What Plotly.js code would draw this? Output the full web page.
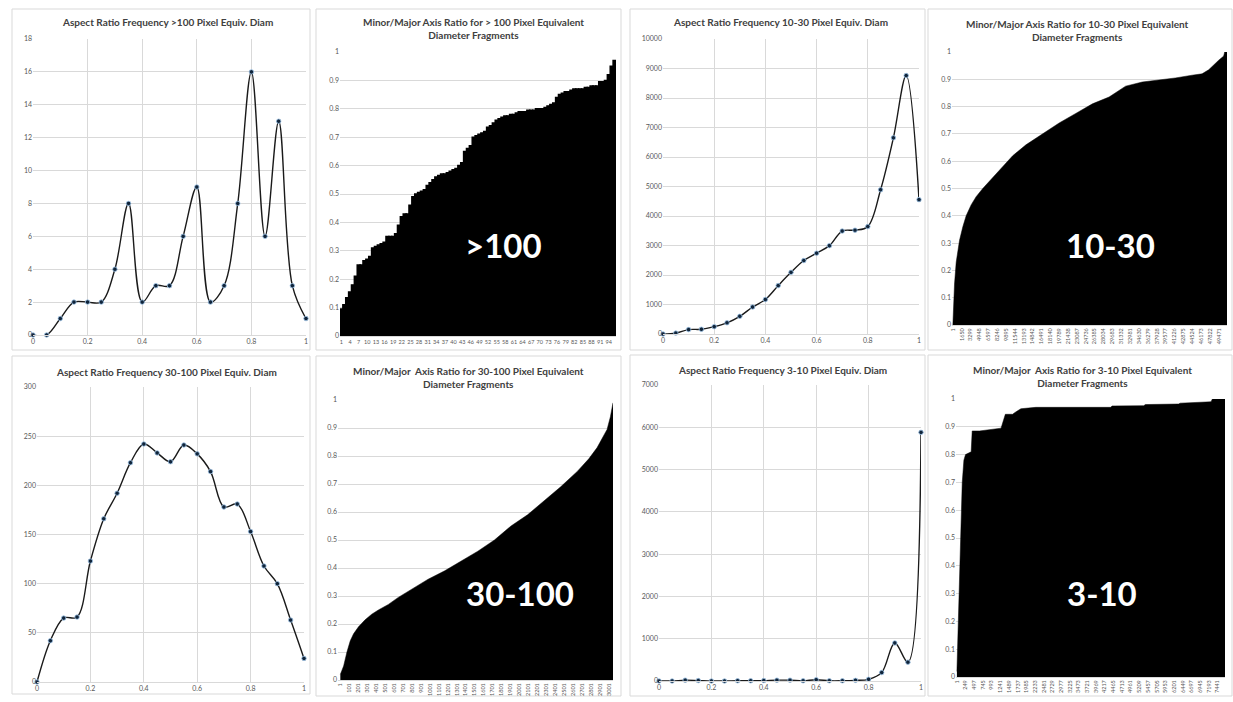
<!DOCTYPE html>
<html>
<head>
<meta charset="utf-8">
<script src="https://cdn.plot.ly/plotly-3.0.1.min.js"></script>
<style>html,body{margin:0;padding:0;background:#fff;}#chart{width:1233px;height:702px;}</style>
</head>
<body>
<div id="chart"></div>
<script>
// ---------- DATA ----------
const ratioBins = [0,0.05,0.1,0.15,0.2,0.25,0.3,0.35,0.4,0.45,0.5,0.55,0.6,0.65,0.7,0.75,0.8,0.85,0.9,0.95,1];
const freqGt100 = [0,0,1,2,2,2,4,8,2,3,3,6,9,2,3,8,16,6,13,3,1];
const freq10to30 = [0,30,150,160,250,380,600,915,1170,1640,2090,2490,2740,2995,3490,3520,3640,4890,6650,8760,4555];
const freq30to100 = [0,42,65,66,123,166,192,223,242,233,224,241,232,214,178,181,153,118,100,63,24];
const freq3to10 = [0,0,20,10,0,0,5,5,10,20,20,5,30,5,5,15,40,200,900,445,5880];

const ratioGt100 = [0.095,0.11,0.135,0.155,0.18,0.21,0.25,0.25,0.265,0.27,0.28,0.31,0.315,0.32,0.325,0.33,0.35,0.35,0.35,0.36,
  0.39,0.42,0.43,0.43,0.46,0.49,0.50,0.505,0.51,0.515,0.53,0.54,0.55,0.56,0.565,0.57,0.57,0.575,0.58,0.585,
  0.59,0.60,0.61,0.65,0.66,0.67,0.70,0.705,0.71,0.715,0.72,0.735,0.74,0.75,0.76,0.765,0.77,0.775,0.775,0.78,
  0.78,0.785,0.79,0.79,0.79,0.795,0.795,0.795,0.80,0.80,0.80,0.805,0.81,0.815,0.82,0.84,0.85,0.855,0.86,0.86,
  0.865,0.87,0.87,0.87,0.87,0.875,0.875,0.88,0.88,0.88,0.895,0.895,0.90,0.92,0.95,0.97];
const ticksGt100 = [1,4,7,10,13,16,19,22,25,28,31,34,37,40,43,46,49,52,55,58,61,64,67,70,73,76,79,82,85,88,91,94];

const idx10to30 = [1,310,620,930,1240,1855,2475,3400,4330,5565,7420,9275,11130,13600,16690,19780,22870,25965,29055,32145,35235,38325,41420,44510,46365,47600,48840,49460,50385,50570,51000];
const ratio10to30 = [0.0,0.15,0.23,0.28,0.31,0.36,0.40,0.44,0.47,0.50,0.54,0.58,0.62,0.66,0.70,0.74,0.775,0.81,0.835,0.875,0.89,0.897,0.905,0.915,0.92,0.935,0.96,0.97,0.985,1.0,1.0];
const ticks10to30 = [1,1650,3299,4948,6597,8246,9895,11544,13193,14842,16491,18140,19789,21438,23087,24736,26385,28034,29683,31332,32981,34630,36279,37928,39577,41226,42875,44524,46173,47822,49471];

const idx30to100 = [1,38,75,112,149,204,278,352,426,538,648,796,982,1167,1352,1537,1722,1907,2092,2277,2462,2647,2776,2869,2943,2980,3017,3046];
const ratio30to100 = [0.02,0.05,0.10,0.14,0.165,0.19,0.215,0.235,0.25,0.27,0.295,0.325,0.36,0.39,0.425,0.46,0.50,0.55,0.59,0.64,0.69,0.745,0.79,0.83,0.87,0.895,0.94,0.99];
const ticks30to100 = [1,101,201,301,401,501,601,701,801,901,1001,1101,1201,1301,1401,1501,1601,1701,1801,1901,2001,2101,2201,2301,2401,2501,2601,2701,2801,2901,3001];

const idx3to10 = [1,77,153,200,247,408,437,645,1260,1383,1591,1639,1828,2255,4385,4432,5332,5379,6326,6373,7254,7292,7652];
const ratio3to10 = [0.02,0.40,0.70,0.78,0.80,0.81,0.885,0.885,0.895,0.945,0.945,0.95,0.965,0.97,0.97,0.975,0.976,0.98,0.982,0.985,0.99,1.0,1.0];
const ticks3to10 = [1,249,497,745,993,1241,1489,1737,1985,2233,2481,2729,2977,3225,3473,3721,3969,4217,4465,4713,4961,5209,5457,5705,5953,6201,6449,6697,6945,7193,7441];

const titles = [
  "Aspect Ratio Frequency >100 Pixel Equiv. Diam",
  "Minor/Major Axis Ratio for > 100 Pixel Equivalent<br>Diameter Fragments",
  "Aspect Ratio Frequency 10-30 Pixel Equiv. Diam",
  "Minor/Major Axis Ratio for 10-30 Pixel Equivalent<br>Diameter Fragments",
  "Aspect Ratio Frequency 30-100 Pixel Equiv. Diam",
  "Minor/Major  Axis Ratio for 30-100 Pixel Equivalent<br>Diameter Fragments",
  "Aspect Ratio Frequency 3-10 Pixel Equiv. Diam",
  "Minor/Major  Axis Ratio for 3-10 Pixel Equivalent<br>Diameter Fragments"
];
const bigLabels = [">100","10-30","30-100","3-10"];

// ---------- LAYOUT HELPERS ----------
const W = 1233, H = 702;
const xd = (a,b) => [a/W, b/W];
const yd = (t,b) => [1-b/H, 1-t/H];
const px = v => v/W;
const py = v => 1-v/H;

const FONT = "Lato, 'Open Sans', sans-serif";
const GRID = "#d9d9d9";
const TICKC = "#595959";

// plot areas [left, top, right, bottom] in pixels
const areas = [
  [33,39,306,335],[340,52,616,336],[663,39,919,334],[952,52,1227,325],
  [37,387,304,682],[338,400,613,680],[659,385,921,681],[956,399,1225,677]
];
// panel frames
const frames = [
  [12,9,310,350],[316,9,621,350],[630,9,925,350],[928,9,1232,350],
  [12,356,310,694],[316,356,621,696],[630,355,925,696],[928,355,1232,696]
];
const titlePos = [[167,22],[473,28],[780,22],[1077,31],[166,372],[468,377],[782,370],[1082,376]];
const bigPos = [[503,245],[1110,245],[520,593],[1102,593]];

const lineStyle = {color:"#1a1a1a", width:1.4, shape:"spline", smoothing:1};
const markerStyle = {color:"#10243a", size:4.5, line:{color:"#9dc3e6", width:0.8}};

const traces = [
  {type:"scatter", mode:"lines+markers", x:ratioBins, y:freqGt100, line:lineStyle, marker:markerStyle, cliponaxis:false, xaxis:"x", yaxis:"y"},
  {type:"bar", x:ratioGt100.map((v,i)=>i+1), y:ratioGt100, width:1.02, marker:{color:"#000", line:{color:"#000", width:1.5}}, xaxis:"x2", yaxis:"y2"},
  {type:"scatter", mode:"lines+markers", x:ratioBins, y:freq10to30, line:lineStyle, marker:markerStyle, cliponaxis:false, xaxis:"x3", yaxis:"y3"},
  {type:"scatter", mode:"lines", x:idx10to30, y:ratio10to30, fill:"tozeroy", fillcolor:"#000", line:{color:"#000", width:0.5}, xaxis:"x4", yaxis:"y4"},
  {type:"scatter", mode:"lines+markers", x:ratioBins, y:freq30to100, line:lineStyle, marker:markerStyle, cliponaxis:false, xaxis:"x5", yaxis:"y5"},
  {type:"scatter", mode:"lines", x:idx30to100, y:ratio30to100, fill:"tozeroy", fillcolor:"#000", line:{color:"#000", width:0.5}, xaxis:"x6", yaxis:"y6"},
  {type:"scatter", mode:"lines+markers", x:ratioBins, y:freq3to10, line:lineStyle, marker:markerStyle, cliponaxis:false, xaxis:"x7", yaxis:"y7"},
  {type:"scatter", mode:"lines", x:idx3to10, y:ratio3to10, fill:"tozeroy", fillcolor:"#000", line:{color:"#000", width:0.5}, xaxis:"x8", yaxis:"y8"}
];

const layout = {
  width: W, height: H,
  margin: {l:0, r:0, t:0, b:0},
  paper_bgcolor: "#fff", plot_bgcolor: "#fff",
  showlegend: false,
  bargap: 0,
  font: {family: FONT, color: TICKC, size: 7},
  shapes: [], annotations: []
};

const yRanges = [[0,18],[0,1],[0,10000],[0,1],[0,300],[0,1],[0,7000],[0,1]];
const yDticks = [2,0.1,1000,0.1,50,0.1,1000,0.1];
const catTicks = {2:ticksGt100, 4:ticks10to30, 6:ticks30to100, 8:ticks3to10};
const catRanges = {2:[0.5, ratioGt100.length+0.5], 4:[-160, 51000], 6:[-25, 3046], 8:[-25, 7652]};

for (let i=1; i<=8; i++) {
  const a = areas[i-1];
  const xk = i===1 ? "xaxis" : "xaxis"+i;
  const yk = i===1 ? "yaxis" : "yaxis"+i;
  const yid = i===1 ? "y" : "y"+i;
  const xid = i===1 ? "x" : "x"+i;
  const isFreq = (i % 2 === 1);
  if (isFreq) {
    layout[xk] = {domain: xd(a[0],a[2]), anchor: yid, range:[0,1], dtick:0.2, tick0:0,
      showgrid:true, gridcolor:GRID, gridwidth:1, zeroline:false, showline:true, linecolor:GRID,
      ticks:"", tickfont:{size:7, color:TICKC, family:FONT}, fixedrange:true};
  } else {
    const tv = catTicks[i];
    const rot = (i !== 2);
    layout[xk] = {domain: xd(a[0],a[2]), anchor: yid, range: catRanges[i],
      tickmode:"array", tickvals: tv, ticktext: tv.map(String), tickangle: rot ? -90 : 0,
      showgrid:false, zeroline:false, showline:true, linecolor:GRID, ticks:"",
      tickfont:{size: rot ? 5.5 : 5.5, color:TICKC, family:FONT}, fixedrange:true};
  }
  layout[yk] = {domain: yd(a[1],a[3]), anchor: xid, range: yRanges[i-1], dtick: yDticks[i-1], tick0:0,
    tickformat: (i===3 || i===7) ? "d" : "",
    showgrid:true, gridcolor:GRID, gridwidth:1, zeroline:false, showline:false, ticks:"",
    tickfont:{size:7, color:TICKC, family:FONT}, fixedrange:true};

  const f = frames[i-1];
  layout.shapes.push({type:"rect", xref:"paper", yref:"paper", x0:px(f[0]), x1:px(f[2]), y0:py(f[3]), y1:py(f[1]),
    line:{color:"#d9d9d9", width:1}, fillcolor:"rgba(0,0,0,0)", layer:"below"});

  const tp = titlePos[i-1];
  layout.annotations.push({xref:"paper", yref:"paper", x:px(tp[0]), y:py(tp[1]), xanchor:"center", yanchor:"middle",
    text:"<b>"+titles[i-1]+"</b>", showarrow:false, align:"center",
    font:{family:FONT, size:10, color:"#404040"}});
}

bigLabels.forEach((t,k) => {
  const p = bigPos[k];
  layout.annotations.push({xref:"paper", yref:"paper", x:px(p[0]), y:py(p[1]), xanchor:"center", yanchor:"middle",
    text:"<b>"+t+"</b>", showarrow:false, font:{family:FONT, size:33, color:"#ffffff"}});
});

Plotly.newPlot("chart", traces, layout, {staticPlot:true, displayModeBar:false});
</script>
</body>
</html>
